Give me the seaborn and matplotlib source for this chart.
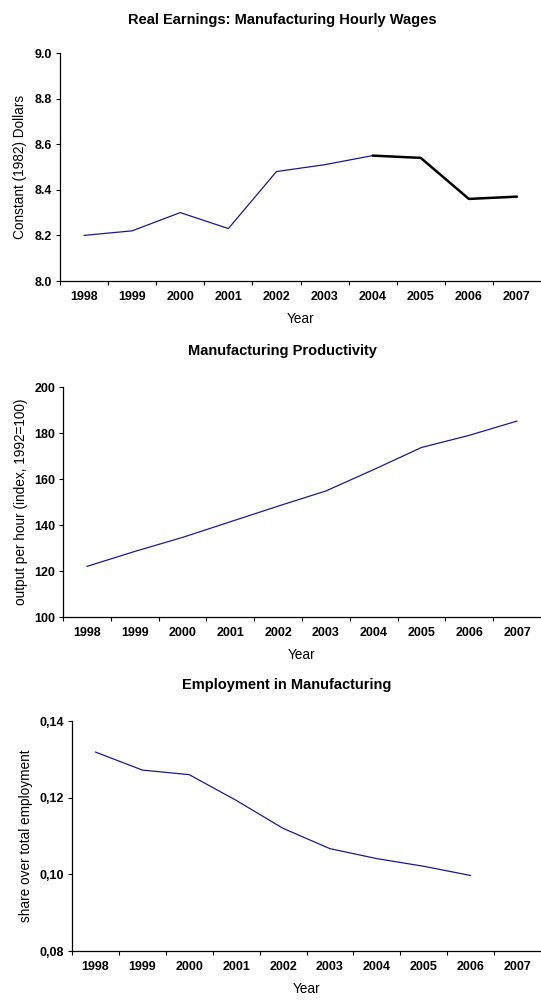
import numpy as np
import pandas as pd
import seaborn as sns
import matplotlib.pyplot as plt
from matplotlib.ticker import FixedLocator

# Data
years = [1998, 1999, 2000, 2001, 2002, 2003, 2004, 2005, 2006, 2007]
year_labels = [str(y) for y in years]

wages = [8.20, 8.22, 8.30, 8.23, 8.48, 8.51, 8.55, 8.54, 8.36, 8.37]
wages_highlight_from = 2004
wage_ticks = [8.0, 8.2, 8.4, 8.6, 8.8, 9.0]
wage_ticklabels = ['8.0', '8.2', '8.4', '8.6', '8.8', '9.0']

productivity = [122.0, 128.5, 134.6, 141.4, 148.2, 154.8, 164.1, 173.7, 179.0, 185.2]
prod_ticks = [100, 120, 140, 160, 180, 200]
prod_ticklabels = ['100', '120', '140', '160', '180', '200']

employment = [0.1319, 0.1272, 0.1260, 0.1193, 0.1120, 0.1067, 0.1041, 0.1021, 0.0997, np.nan]
emp_ticks = [0.08, 0.10, 0.12, 0.14]
emp_ticklabels = ['0,08', '0,10', '0,12', '0,14']

df = pd.DataFrame({'Year': years, 'wages': wages,
                   'productivity': productivity, 'employment': employment})

sns.set_style('white')
plt.rcParams['font.family'] = ['Liberation Sans', 'DejaVu Sans']
plt.rcParams['text.color'] = 'black'
plt.rcParams['axes.labelcolor'] = 'black'
plt.rcParams['xtick.color'] = 'black'
plt.rcParams['ytick.color'] = 'black'

W, H = 541, 1000
fig = plt.figure(figsize=(W / 100, H / 100), dpi=100)


def make_axes(left, top, right, bottom):
    return fig.add_axes([left / W, 1 - bottom / H, (right - left) / W, (bottom - top) / H])


def style_axes(ax, yticks, yticklabels, ylabel, ylabel_x):
    ax.set_xlim(years[0] - 0.5, years[-1] + 0.5)
    ax.set_ylim(yticks[0], yticks[-1])
    ax.set_xticks(years)
    ax.set_xticklabels(year_labels, fontweight='bold', fontsize=9)
    ax.xaxis.set_minor_locator(FixedLocator([y - 0.5 for y in years] + [years[-1] + 0.5]))
    ax.tick_params(axis='x', which='major', length=0, pad=7.5)
    ax.tick_params(axis='x', which='minor', length=3, width=0.8, color='black', direction='out', bottom=True)
    ax.set_yticks(yticks)
    ax.set_yticklabels(yticklabels, fontweight='bold', fontsize=9)
    ax.tick_params(axis='y', length=3, width=0.8, color='black', direction='out', pad=2.5, left=True)
    for side in ['top', 'right']:
        ax.spines[side].set_visible(False)
    for side in ['left', 'bottom']:
        ax.spines[side].set_color('black')
        ax.spines[side].set_linewidth(0.9)
    ax.set_xlabel('Year', fontsize=9.8, labelpad=6)
    ax.set_ylabel(ylabel, fontsize=9.8)
    ax.yaxis.set_label_coords(ylabel_x, 0.5)
    ax.grid(False)


line_color = '#1a1a8c'

# Panel 1: real earnings
ax1 = make_axes(60, 53, 541, 281)
sns.lineplot(data=df[df['Year'] <= wages_highlight_from], x='Year', y='wages',
             color=line_color, linewidth=0.9, ax=ax1)
sns.lineplot(data=df[df['Year'] >= wages_highlight_from], x='Year', y='wages',
             color='black', linewidth=1.8, ax=ax1)
style_axes(ax1, wage_ticks, wage_ticklabels, 'Constant (1982) Dollars', -0.069)
fig.text(282 / W, 1 - 20 / H, 'Real Earnings: Manufacturing Hourly Wages',
         ha='center', va='center', fontsize=10.5, fontweight='bold')

# Panel 2: productivity
ax2 = make_axes(63, 387, 541, 617)
sns.lineplot(data=df, x='Year', y='productivity', color=line_color, linewidth=0.9, ax=ax2)
style_axes(ax2, prod_ticks, prod_ticklabels, 'output per hour (index, 1992=100)', -0.073)
fig.text(282 / W, 1 - 351 / H, 'Manufacturing Productivity',
         ha='center', va='center', fontsize=10.5, fontweight='bold')

# Panel 3: employment share
ax3 = make_axes(72, 721, 541, 951)
sns.lineplot(data=df.dropna(), x='Year', y='employment', color=line_color, linewidth=0.9, ax=ax3)
style_axes(ax3, emp_ticks, emp_ticklabels, 'share over total employment', -0.083)
fig.text(287 / W, 1 - 685 / H, 'Employment in Manufacturing',
         ha='center', va='center', fontsize=10.5, fontweight='bold')

fig.savefig('out.png', dpi=100)
